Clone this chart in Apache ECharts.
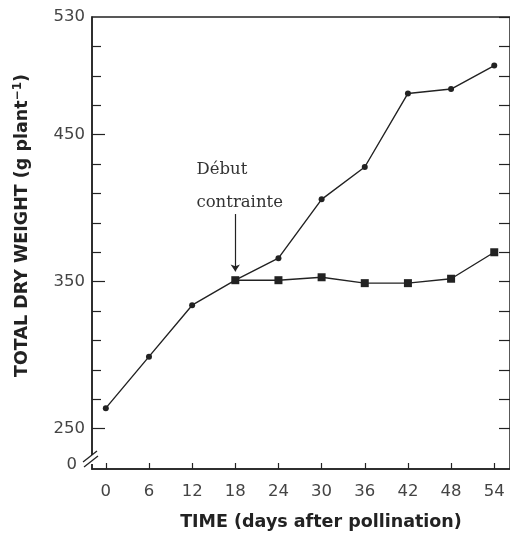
<!DOCTYPE html>
<html><head><meta charset="utf-8">
<script src="https://cdn.jsdelivr.net/npm/echarts@6/dist/echarts.min.js"></script>
<style>html,body{margin:0;padding:0;background:#fff}#c{width:510px;height:536px}</style>
</head><body><div id="c"></div>
<script>
// ---- data ----
const days = [0, 6, 12, 18, 24, 30, 36, 42, 48, 54];
const controlWeight = [264, 299, 334, 351, 366, 406, 428, 478, 481, 497];
const stressDays = [18, 24, 30, 36, 42, 48, 54];
const stressWeight = [351, 351, 353, 349, 349, 352, 370];
const yLabelValues = [250, 350, 450, 530];
const yMinorTicks = [270, 290, 310, 330, 370, 390, 410, 430, 470, 490, 510];
const yAllTicks = [250, 270, 290, 310, 330, 350, 370, 390, 410, 430, 450, 470, 490, 510, 530];
const yZeroLabelAt = 225.3; // broken-axis "0"
const stressStartDay = 18;
const annotationText = 'Début\ncontrainte';

const ink = '#222';
const labelColor = '#444';
const fontSans = 'DejaVu Sans';

const chart = echarts.init(document.getElementById('c'), null, {renderer: 'canvas'});
const zip = (a, b) => a.map((x, i) => [x, b[i]]);

const option = {
  animation: false,
  backgroundColor: '#fff',
  grid: {left: 92, top: 17, width: 424, height: 455, show: true, borderColor: ink, borderWidth: 1.5, backgroundColor: 'transparent'},
  xAxis: {
    type: 'value', min: -1.92, max: 56.19,
    axisLine: {show: true, onZero: false, lineStyle: {color: ink, width: 1.5}},
    axisTick: {show: true, inside: true, length: 6, customValues: days, lineStyle: {color: ink, width: 1.2}},
    axisLabel: {customValues: days, margin: 14, fontFamily: fontSans, fontSize: 16.5, color: labelColor},
    splitLine: {show: false},
    name: 'TIME (days after pollination)', nameLocation: 'middle', nameGap: 44,
    nameTextStyle: {fontFamily: fontSans, fontWeight: 'bold', fontSize: 17.5, color: ink, padding: [0, 0, 0, 40]}
  },
  yAxis: [
    {
      type: 'value', min: 222.6, max: 530,
      axisLine: {show: true, onZero: false, lineStyle: {color: ink, width: 1.5}},
      axisTick: {show: true, inside: true, length: 13, customValues: [250, 350, 450], lineStyle: {color: ink, width: 1.2}},
      axisLabel: {
        customValues: yLabelValues.concat([yZeroLabelAt]), margin: 7,
        fontFamily: fontSans, fontSize: 16.5, color: labelColor,
        formatter: v => v < 240 ? '{z|0}' : String(v),
        rich: {z: {fontFamily: fontSans, fontSize: 16.5, color: labelColor, padding: [0, 8, 0, 0]}}
      },
      splitLine: {show: false},
      name: '{t|TOTAL DRY WEIGHT (g plant}{s|−1}{t|)}', nameLocation: 'middle', nameGap: 60, nameRotate: 90,
      nameTextStyle: {padding: [0, 0, 0, 35], rich: {
        t: {fontFamily: fontSans, fontWeight: 'bold', fontSize: 17.5, color: ink},
        s: {fontFamily: fontSans, fontWeight: 'bold', fontSize: 12, color: ink, verticalAlign: 'top', padding: [0, 0, 8, 0]}
      }}
    },
    {
      type: 'value', min: 222.6, max: 530, position: 'left',
      axisLine: {show: false, onZero: false},
      axisTick: {show: true, inside: true, length: 9, customValues: yMinorTicks, lineStyle: {color: ink, width: 1.2}},
      axisLabel: {show: false}, splitLine: {show: false}
    },
    {
      type: 'value', min: 222.6, max: 530, position: 'right',
      axisLine: {show: false, onZero: false},
      axisTick: {show: true, inside: true, length: 11, customValues: yAllTicks, lineStyle: {color: ink, width: 1.2}},
      axisLabel: {show: false}, splitLine: {show: false}
    }
  ],
  series: [
    {
      type: 'line', data: zip(days, controlWeight),
      symbol: 'circle', symbolSize: 6,
      lineStyle: {color: ink, width: 1.4}, itemStyle: {color: ink},
      z: 3,
      markLine: {
        silent: true, symbol: ['none', 'arrow'], symbolSize: 7,
        lineStyle: {color: ink, width: 1.2, type: 'solid'}, label: {show: false},
        data: [[{coord: [stressStartDay, 396]}, {coord: [stressStartDay, 357]}]]
      },
      markPoint: {
        silent: true, symbol: 'circle', symbolSize: 0,
        data: [{coord: [12.6, 415]}],
        label: {show: true, position: 'right', distance: 0, formatter: annotationText,
          fontFamily: 'DejaVu Serif', fontSize: 16.5, lineHeight: 33, color: '#333'}
      }
    },
    {
      type: 'line', data: zip(stressDays, stressWeight),
      symbol: 'rect', symbolSize: 8,
      lineStyle: {color: ink, width: 1.4}, itemStyle: {color: ink},
      z: 4
    }
  ],
  graphic: [
    {type: 'rect', shape: {x: 86, y: 455, width: 12, height: 9}, style: {fill: '#fff'}, z: 100},
    {type: 'line', shape: {x1: 83, y1: 462, x2: 97, y2: 451}, style: {stroke: ink, lineWidth: 1.3}, z: 101},
    {type: 'line', shape: {x1: 84, y1: 467, x2: 98, y2: 456}, style: {stroke: ink, lineWidth: 1.3}, z: 101}
  ]
};
chart.setOption(option);
</script>
</body></html>
